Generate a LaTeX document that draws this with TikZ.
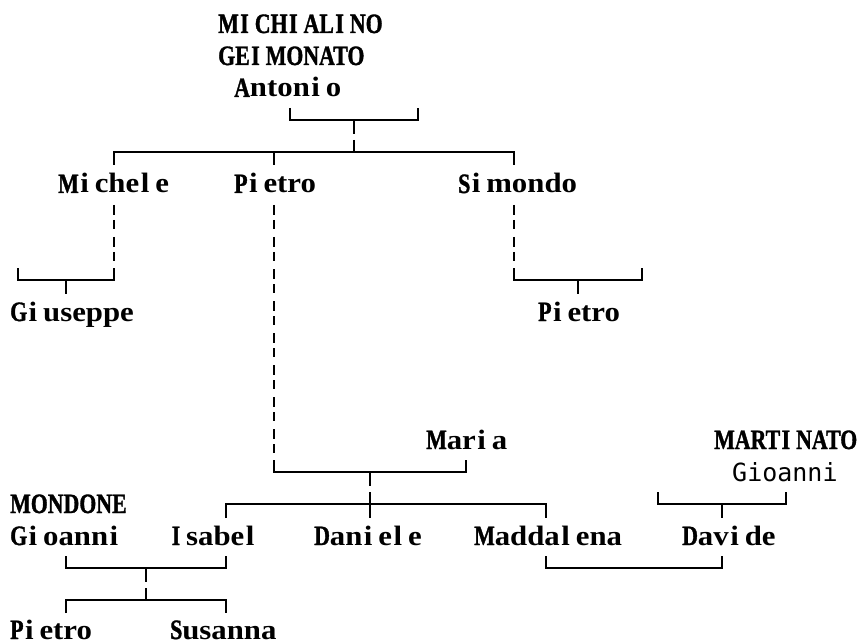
\documentclass[tikz,border=0pt]{standalone}
\usepackage{fontspec}
\newfontfamily\ufont[FakeStretch=0.78,FakeBold=1.2]{Liberation Serif}
\newfontfamily\lfont[FakeStretch=1.1]{Liberation Serif}
\newfontfamily\gsans{DejaVu Sans Mono}
\makeatletter
\def\mono#1{\mono@loop#1\@nil}
\def\mono@loop#1{\ifx#1\@nil\else\mono@char#1\expandafter\mono@loop\fi}
\def\mono@nbox#1{\makebox[16pt][l]{\hspace{1.5pt}#1}}
\def\mono@char#1{\ifx i#1\mono@nbox{\lfont#1}\else\ifx l#1\mono@nbox{\lfont#1}\else\ifx I#1\mono@nbox{\ufont#1}\else\ifnum`#1<97 {\ufont#1}\else{\lfont#1}\fi\fi\fi\fi}
\makeatother
\begin{document}
\begin{tikzpicture}[x=1pt,y=-1pt,
  txt/.style={anchor=base west, inner sep=0pt, font=\fontsize{28}{30}\selectfont\bfseries},
  stxt/.style={anchor=base west, inner sep=0pt, font=\fontsize{25}{30}\selectfont\gsans},
  conn/.style={line width=2pt, line cap=butt, line join=miter},
  dashv/.style={conn, dash pattern=on 10pt off 5pt on 9pt off 8pt}]
\useasboundingbox (0,0) rectangle (864,644);

% names
\node[txt] (michialino) at (218,33) {\mono{MICHIALINO}};
\node[txt] (geimonato) at (218,65) {\mono{GEIMONATO}};
\node[txt] (antonio) at (234,97) {\mono{Antonio}};
\node[txt] (michele) at (58,193) {\mono{Michele}};
\node[txt] (pietroA) at (234,193) {\mono{Pietro}};
\node[txt] (simondo) at (458,193) {\mono{Simondo}};
\node[txt] (giuseppe) at (10,321) {\mono{Giuseppe}};
\node[txt] (pietroB) at (538,321) {\mono{Pietro}};
\node[txt] (maria) at (426,449) {\mono{Maria}};
\node[txt] (martinato) at (714,449) {\mono{MARTINATO}};
\node[stxt] (gioanniM) at (732,481) {Gioanni};
\node[txt] (mondone) at (10,513) {\mono{MONDONE}};
\node[txt] (gioanni) at (10,545) {\mono{Gioanni}};
\node[txt] (isabel) at (170,545) {\mono{Isabel}};
\node[txt] (daniele) at (314,545) {\mono{Daniele}};
\node[txt] (maddalena) at (474,545) {\mono{Maddalena}};
\node[txt] (davide) at (682,545) {\mono{Davide}};
\node[txt] (pietroC) at (10,639) {\mono{Pietro}};
\node[txt] (susanna) at (170,639) {\mono{Susanna}};

% junction coordinates
\coordinate (aL) at (290,108); \coordinate (aLb) at (290,120);
\coordinate (aR) at (418,108); \coordinate (aRb) at (418,120);
\coordinate (aC) at (354,120); \coordinate (aCd) at (354,134);
\coordinate (sCu) at (354,140); \coordinate (sC) at (354,152);
\coordinate (sL) at (114,152); \coordinate (sLd) at (114,165);
\coordinate (sM) at (274,152); \coordinate (sMd) at (274,165);
\coordinate (sR) at (514,152); \coordinate (sRd) at (514,165);

\coordinate (miT) at (114,205); \coordinate (miB) at (114,264);
\coordinate (miU) at (114,268); \coordinate (miC) at (114,280);
\coordinate (miE) at (18,280); \coordinate (miEu) at (18,268);
\coordinate (miK) at (66,280); \coordinate (miKd) at (66,294);

\coordinate (siT) at (514,205); \coordinate (siB) at (514,264);
\coordinate (siU) at (514,268); \coordinate (siC) at (514,280);
\coordinate (siE) at (642,280); \coordinate (siEu) at (642,268);
\coordinate (siK) at (578,280); \coordinate (siKd) at (578,294);

\coordinate (piT) at (274,205); \coordinate (piB) at (274,456);
\coordinate (piU) at (274,460); \coordinate (piC) at (274,472);
\coordinate (maC) at (466,472); \coordinate (maU) at (466,460);
\coordinate (pmK) at (370,472); \coordinate (pmKd) at (370,486);
\coordinate (cXu) at (370,492); \coordinate (cXd) at (370,518);
\coordinate (cL) at (226,504); \coordinate (cLd) at (226,518);
\coordinate (cR) at (546,504); \coordinate (cRd) at (546,518);

\coordinate (dvL) at (658,504); \coordinate (dvLu) at (658,492);
\coordinate (dvR) at (786,504); \coordinate (dvRu) at (786,492);
\coordinate (dvK) at (722,504); \coordinate (dvKd) at (722,518);

\coordinate (giL) at (66,568); \coordinate (giLu) at (66,556);
\coordinate (giR) at (226,568); \coordinate (giRu) at (226,556);
\coordinate (giK) at (146,568); \coordinate (giKd) at (146,582);
\coordinate (chKu) at (146,588); \coordinate (chK) at (146,600);
\coordinate (chL) at (66,600); \coordinate (chLd) at (66,613);
\coordinate (chR) at (226,600); \coordinate (chRd) at (226,613);

\coordinate (mdL) at (546,568); \coordinate (mdLu) at (546,556);
\coordinate (mdR) at (722,568); \coordinate (mdRu) at (722,556);

% connectors
\draw[conn] (aL) -- (aLb) -- (aRb) -- (aR);
\draw[conn] (aC) -- (aCd);
\draw[conn] (sCu) -- (sC);
\draw[conn] (sLd) -- (sL) -- (sR) -- (sRd);
\draw[conn] (sM) -- (sMd);

\draw[dashv] (miT) -- (miB);
\draw[conn] (miU) -- (miC) -- (miE) -- (miEu);
\draw[conn] (miK) -- (miKd);

\draw[dashv] (siT) -- (siB);
\draw[conn] (siU) -- (siC) -- (siE) -- (siEu);
\draw[conn] (siK) -- (siKd);

\draw[dashv] (piT) -- (piB);
\draw[conn] (piU) -- (piC) -- (maC) -- (maU);
\draw[conn] (pmK) -- (pmKd);
\draw[conn] (cXu) -- (cXd);
\draw[conn] (cLd) -- (cL) -- (cR) -- (cRd);

\draw[conn] (dvLu) -- (dvL) -- (dvR) -- (dvRu);
\draw[conn] (dvK) -- (dvKd);

\draw[conn] (giLu) -- (giL) -- (giR) -- (giRu);
\draw[conn] (giK) -- (giKd);
\draw[conn] (chKu) -- (chK);
\draw[conn] (chLd) -- (chL) -- (chR) -- (chRd);

\draw[conn] (mdLu) -- (mdL) -- (mdR) -- (mdRu);
\end{tikzpicture}
\end{document}
